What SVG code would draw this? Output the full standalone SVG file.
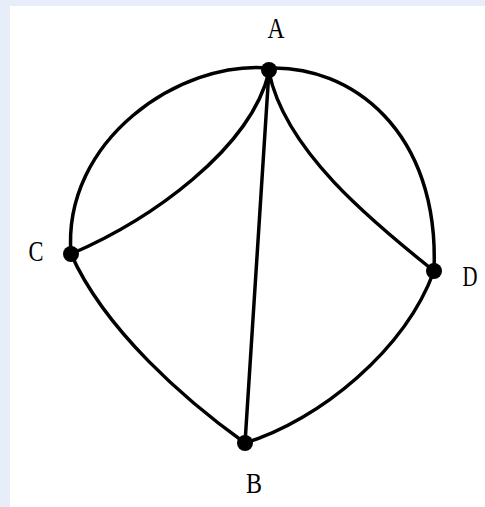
<svg xmlns="http://www.w3.org/2000/svg" width="485" height="507" viewBox="0 0 485 507">
<style>
.e{fill:none;stroke:#000;stroke-width:3.5;stroke-linecap:round}
.n{fill:#000}
.l{font-family:"Liberation Serif","DejaVu Serif",serif;font-size:30px;fill:#000;text-anchor:middle}
</style>
<rect width="485" height="507" fill="#e8eef9"/>
<rect x="10" y="6" width="475" height="501" fill="#fff"/>
<g id="edges">
<path class="e" d="M269,68 C180,60 62,140 71,254"/>
<path class="e" d="M269,72 C250,150 150,220 71,254"/>
<path class="e" d="M269,70 L245,443"/>
<path class="e" d="M269,72 C285,150 370,220 434,271"/>
<path class="e" d="M269,68 C350,65 440,130 434,271"/>
<path class="e" d="M71,254 C105,330 185,400 245,443"/>
<path class="e" d="M245,443 C320,420 405,350 434,271"/>
</g>
<g id="A"><circle class="n" cx="269" cy="70" r="8"/><text class="l" x="276" y="38" textLength="17" lengthAdjust="spacingAndGlyphs">A</text></g>
<g id="C"><circle class="n" cx="71" cy="254" r="8"/><text class="l" x="36" y="261" textLength="15" lengthAdjust="spacingAndGlyphs">C</text></g>
<g id="D"><circle class="n" cx="434" cy="271" r="8"/><text class="l" x="470" y="286" textLength="15" lengthAdjust="spacingAndGlyphs">D</text></g>
<g id="B"><circle class="n" cx="245" cy="443" r="8"/><text class="l" x="254" y="493" textLength="16" lengthAdjust="spacingAndGlyphs">B</text></g>
</svg>
